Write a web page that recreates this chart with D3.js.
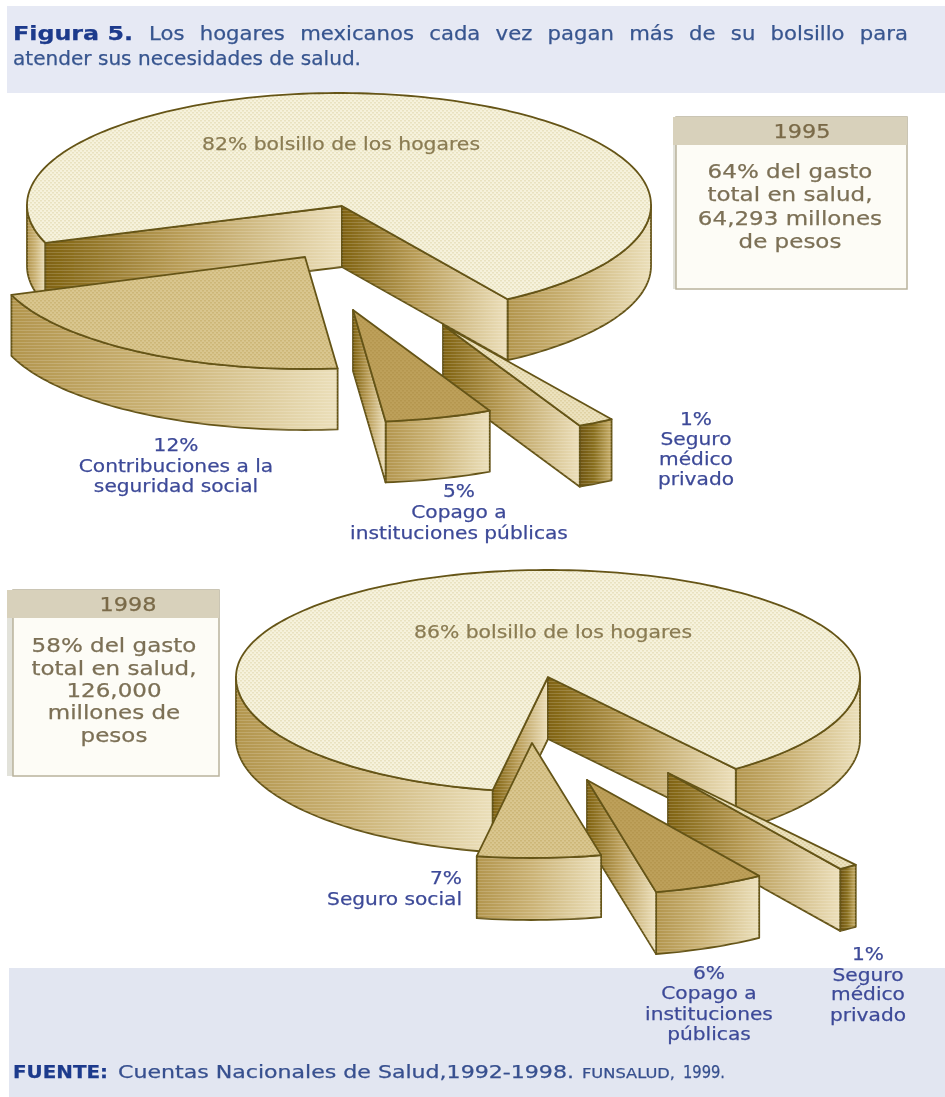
<!DOCTYPE html>
<html lang="es"><head><meta charset="utf-8">
<script src="https://cdn.jsdelivr.net/npm/d3@7/dist/d3.min.js"></script>
<style>html,body{margin:0;padding:0;background:#fff}svg{display:block}text{font-family:"DejaVu Sans",Verdana,sans-serif;stroke:currentColor;stroke-width:.25}</style>
</head><body><svg id="c" width="945" height="1097"></svg>
<script>
// ---------- data ----------
const values1995 = [82, 1, 5, 12];
const values1998 = [86, 1, 6, 7];
const mainLabel1995 = "82% bolsillo de los hogares";
const mainLabel1998 = "86% bolsillo de los hogares";
const sliceLabels1995 = [["1%","Seguro","médico","privado"],["5%","Copago a","instituciones públicas"],["12%","Contribuciones a la","seguridad social"]];
const sliceLabels1998 = [["1%","Seguro","médico","privado"],["6%","Copago a","instituciones","públicas"],["7%","Seguro social"]];
const boxYears = ["1995","1998"];
const boxLines1995 = ["64% del gasto","total en salud,","64,293 millones","de pesos"];
const boxLines1998 = ["58% del gasto","total en salud,","126,000","millones de","pesos"];
const titleBold = "Figura 5.";
const titleLine1 = "Los hogares mexicanos cada vez pagan más de su bolsillo para";
const titleLine2 = "atender sus necesidades de salud.";
const sourceParts = ["FUENTE:","Cuentas Nacionales de Salud,1992-1998.","FUNSALUD,","1999."];

// ---------- layout (as drawn in the picture, not data) ----------
const pies = [
 { values: values1995, cx:339, cy:205, rx:312, ryTop:112, ryBottom:112, depth:61, apexShift:[3,1],
   shareStops:[0,.82,.83,.88,1], angleStops:[160.2,417.3,424,444,520.2],
   offsets:[[0,0],[104,120],[14,105],[-34,52]] },
 { values: values1998, cx:548, cy:677, rx:312, ryTop:107, ryBottom:115, depth:62, apexShift:[0,0],
   shareStops:[0,.86,.87,.93,1], angleStops:[100.2,413,416.5,437.2,460.2],
   offsets:[[0,0],[120,96],[39,103],[-16,66]] }
];
const topFills = ["url(#pMain)","url(#pPale)","url(#pDark)","url(#pTan)"];
const labelSpots = [
 [ {x:696,ys:[425,445,465,485]}, {x:459,ys:[497,518,539]}, {x:176,ys:[451,472,492]} ],
 [ {x:868,ys:[960,981,1000,1021]}, {x:709,ys:[979,999,1020,1040]}, {x:462,ys:[884,905],anchor:"end"} ]
];

const svg = d3.select("#c");
const defs = svg.append("defs");
defs.append("filter").attr("id","soft").attr("x",0).attr("y",0).attr("width",1).attr("height",1)
    .append("feGaussianBlur").attr("stdDeviation",0.55);

function grad(id, a, b, m){
  const g = defs.append("linearGradient").attr("id",id);
  g.append("stop").attr("offset","0%").attr("stop-color",a);
  if(m) g.append("stop").attr("offset","45%").attr("stop-color",m);
  g.append("stop").attr("offset","100%").attr("stop-color",b);
}
grad("gWall","#7f6210","#ecdfba","#b99d58");
grad("gArc","#b2954d","#ebdfba","#cbb376");
grad("gThin","#6d5410","#c9b06c","#8a7020");
function dots(id,bg,fg){
  const p = defs.append("pattern").attr("id",id).attr("width",4).attr("height",4).attr("patternUnits","userSpaceOnUse");
  p.append("rect").attr("width",4).attr("height",4).attr("fill",bg);
  p.append("rect").attr("x",0).attr("y",0).attr("width",2).attr("height",1.5).attr("fill",fg);
  p.append("rect").attr("x",2).attr("y",2).attr("width",2).attr("height",1.5).attr("fill",fg);
}
dots("pMain","#f6f2dc","#e9e2c0");
dots("pPale","#ece2be","#e0d2a4");
dots("pTan","#d9c68f","#cdb778");
dots("pDark","#bda05a","#b59750");
const hl = defs.append("pattern").attr("id","pLines").attr("width",4).attr("height",3).attr("patternUnits","userSpaceOnUse");
hl.append("rect").attr("width",4).attr("height",1).attr("fill","#fff").attr("fill-opacity",.16);

const root = svg.append("g").attr("filter","url(#soft)");
root.append("rect").attr("width",945).attr("height",1097).attr("fill","#fff");
root.append("rect").attr("x",7).attr("y",6).attr("width",938).attr("height",87).attr("fill","#e6e9f4");
root.append("rect").attr("x",9).attr("y",968).attr("width",936).attr("height",129).attr("fill","#e2e6f1");

// stretch text horizontally, as the scanned reference is
function stretch(sel,k){
  sel.each(function(){ const n=this.getComputedTextLength();
    d3.select(this).attr("textLength",n*k).attr("lengthAdjust","spacingAndGlyphs"); });
  return sel;
}
function fitLength(sel,w){ return sel.attr("textLength",w).attr("lengthAdjust","spacingAndGlyphs"); }
function colored(sel,c){ return sel.attr("fill",c).style("color",c); }

// title
fitLength(colored(root.append("text").attr("x",13).attr("y",40).attr("font-size",20).attr("font-weight","bold"),"#1d3a8c").text(titleBold),120);
const t1 = colored(root.append("text").attr("x",149).attr("y",40).attr("font-size",20),"#37558f").text(titleLine1);
const t1k = 1.06;
t1.attr("word-spacing",(759/t1k-t1.node().getComputedTextLength())/(titleLine1.split(" ").length-1));
fitLength(t1,759);
fitLength(colored(root.append("text").attr("x",13).attr("y",65).attr("font-size",20),"#37558f").text(titleLine2),348);

// pies
const rad = d=>d*Math.PI/180;
const line = d3.line();
pies.forEach((P,pi)=>{
  const pie = d3.pie().sort(null).startAngle(0).endAngle(1)(P.values); // fraction of the whole
  const toAngle = d3.scaleLinear().domain(P.shareStops).range(P.angleStops);
  const sx = d3.scaleLinear().domain([-1,1]).range([P.cx-P.rx,P.cx+P.rx]);
  const sy = d3.scaleLinear().domain([-1,0,1]).range([P.cy-P.ryTop,P.cy,P.cy+P.ryBottom]);
  const g = root.append("g");
  const stroke="#655418";
  pie.forEach((d,i)=>{
    const a0 = toAngle(d.startAngle), a1 = toAngle(d.endAngle);
    const [ox,oy] = P.offsets[i];
    const shift = i===0 ? P.apexShift : [0,0];
    const pt = (a,dz=0)=>[sx(Math.cos(rad(a)))+ox, sy(Math.sin(rad(a)))+oy+dz];
    const apex = dz=>[sx(0)+ox+shift[0], sy(0)+oy+dz+shift[1]];
    const arc = (s,e,dz=0)=>{ const n=Math.max(2,Math.ceil(Math.abs(e-s)/1.5));
      return d3.range(n+1).map(k=>pt(s+(e-s)*k/n,dz)); };
    const sl = g.append("g");
    const side = (poly,fill)=>{
      sl.append("path").attr("d",line(poly)+"Z").attr("fill",fill).attr("stroke",stroke).attr("stroke-width",1.8).attr("stroke-linejoin","round");
      sl.append("path").attr("d",line(poly)+"Z").attr("fill","url(#pLines)");
    };
    [[0,180],[360,540]].forEach(([lo,hi])=>{
      const s=Math.max(a0,lo), e=Math.min(a1,hi);
      if(e>s){ const poly=arc(s,e).concat(arc(e,s,P.depth));
        side(poly, (e-s)<10 ? "url(#gThin)" : "url(#gArc)"); }
    });
    if(Math.cos(rad(a0))<0) side([apex(0),pt(a0),pt(a0,P.depth),apex(P.depth)],"url(#gWall)");
    if(Math.cos(rad(a1))>0) side([apex(0),pt(a1),pt(a1,P.depth),apex(P.depth)],"url(#gWall)");
    sl.append("path").attr("d",line([apex(0)].concat(arc(a0,a1)))+"Z").attr("fill",topFills[i])
      .attr("stroke",stroke).attr("stroke-width",1.8).attr("stroke-linejoin","round");
  });
  const spots = labelSpots[pi];
  (pi?sliceLabels1998:sliceLabels1995).forEach((lines,i)=>{
    const sp=spots[i];
    stretch(colored(g.append("g").selectAll("text").data(lines).join("text")
      .attr("x",sp.x).attr("y",(t,k)=>sp.ys[k]).attr("text-anchor",sp.anchor||"middle")
      .attr("font-size",18.5),"#3d4a98").text(t=>t),1.09);
  });
  fitLength(colored(g.append("text").attr("x",pi?553:341).attr("y",pi?638:150).attr("text-anchor","middle")
    .attr("font-size",18.5),"#8a7b52").text(pi?mainLabel1998:mainLabel1995),278);
});

// info boxes
const boxes=[
 {x:676,y:117,w:231,h:172,hx:802,tx:790,ys:[178,201,225,248],lines:boxLines1995,year:boxYears[0],headX:673},
 {x:13,y:590,w:206,h:186,hx:128,tx:114,ys:[652,675,697,719,742],lines:boxLines1998,year:boxYears[1],headX:7}
];
boxes.forEach(b=>{
  root.append("rect").attr("x",b.headX).attr("y",b.y).attr("width",b.x-b.headX).attr("height",b.h).attr("fill","#e2e2da");
  root.append("rect").attr("x",b.x).attr("y",b.y).attr("width",b.w).attr("height",b.h)
    .attr("fill","#fdfcf6").attr("stroke","#b9b39c").attr("stroke-width",1.5);
  root.append("rect").attr("x",b.headX).attr("y",b.y).attr("width",b.x+b.w-b.headX).attr("height",28).attr("fill","#d8d1bb");
  stretch(colored(root.append("text").attr("x",b.hx).attr("y",b.y+21).attr("text-anchor","middle").attr("font-size",20),"#7a6a48").text(b.year),1.12);
  stretch(colored(root.append("g").selectAll("text").data(b.lines).join("text")
    .attr("x",b.tx).attr("y",(t,k)=>b.ys[k]).attr("text-anchor","middle").attr("font-size",19.5),"#7c7056").text(t=>t),1.18);
});

// source
const srcSpec=[{x:13,w:95,s:17,b:true,f:"#1d3a8c"},{x:118,w:456,s:17,f:"#37508f"},{x:582,w:93,s:14.5,f:"#37508f"},{x:683,w:42,s:17,f:"#37508f"}];
root.append("g").selectAll("text").data(sourceParts).join("text")
  .attr("x",(t,i)=>srcSpec[i].x).attr("y",1078).attr("font-size",(t,i)=>srcSpec[i].s)
  .attr("font-weight",(t,i)=>srcSpec[i].b?"bold":"normal").attr("fill",(t,i)=>srcSpec[i].f).style("color",(t,i)=>srcSpec[i].f)
  .attr("textLength",(t,i)=>srcSpec[i].w).attr("lengthAdjust","spacingAndGlyphs").text(t=>t);
</script></body></html>
